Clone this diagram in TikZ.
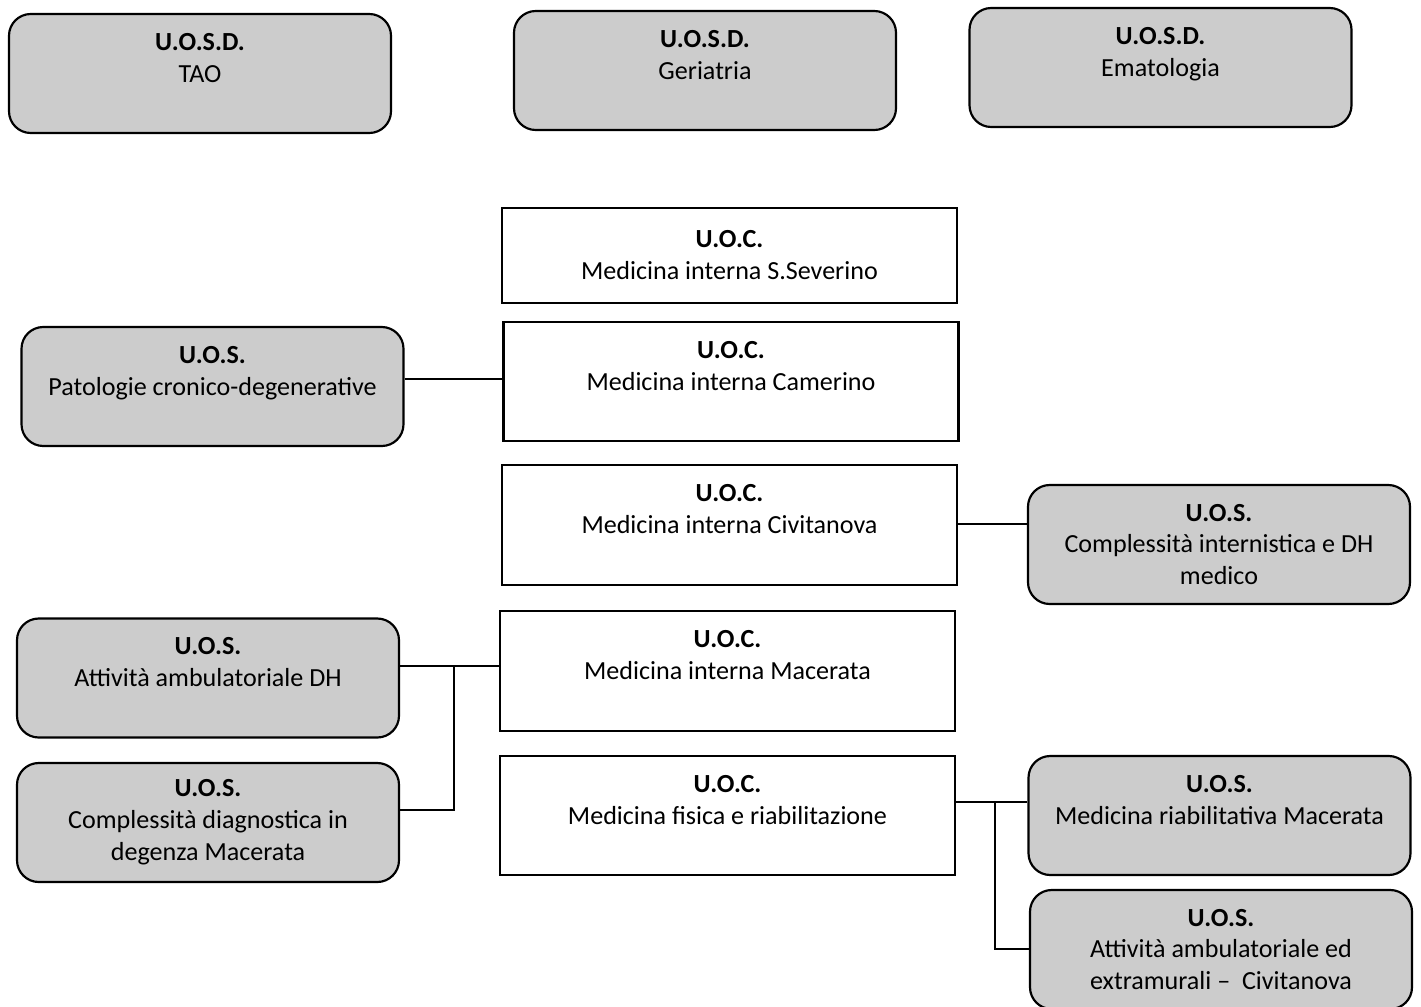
\documentclass[tikz,border=0pt]{standalone}
\usepackage{fontspec}
\setmainfont{Carlito}
\usepackage{tikz}

\newcommand{\px}{0.46pt}
\newcommand{\gap}{\\\mbox{}}

\begin{document}
\begin{tikzpicture}[x=0.46pt,y=-0.46pt,
        unit/.style={draw=black,line width=1pt,align=center,
          font=\fontsize{12}{14.7}\selectfont,inner sep=0pt},
        uoc/.style={unit,fill=white,minimum width=455*\px},
        uos/.style={unit,fill=black!20,rounded corners=10pt,minimum width=382*\px,minimum height=119*\px},
        link/.style={line width=1pt}]
        % Frame of the page
        \useasboundingbox (0,0) rectangle (1421,1006);

        % U.O.S.D. on top
        \node[uos] (tao) at (200,73.5) {\textbf{U.O.S.D.}\\TAO\gap};
        \node[uos] (ger) at (705,70.5) {\textbf{U.O.S.D.}\\Geriatria\gap};
        \node[uos] (ema) at (1160.5,67.5) {\textbf{U.O.S.D.}\\Ematologia\gap};

        % U.O.C. column
        \node[uoc,minimum height=95*\px] (sev) at (729.5,255.5) {\textbf{U.O.C.}\\Medicina interna S.Severino};
        \node[uoc,minimum height=119*\px] (cam) at (731,381.5) {\textbf{U.O.C.}\\Medicina interna Camerino\gap};
        \node[uoc,minimum height=120*\px] (civ) at (729.5,525) {\textbf{U.O.C.}\\Medicina interna Civitanova\gap};
        \node[uoc,minimum height=120*\px] (mac) at (727.5,671) {\textbf{U.O.C.}\\Medicina interna Macerata\gap};
        \node[uoc,minimum height=119*\px] (fis) at (727.5,815.5) {\textbf{U.O.C.}\\Medicina fisica e riabilitazione\gap};

        % U.O.S. on both sides
        \node[uos] (pat) at (212.5,386.5) {\textbf{U.O.S.}\\Patologie cronico-degenerative\gap};
        \node[uos] (cint) at (1219,544.5) {\textbf{U.O.S.}\\Complessità internistica e DH\\medico};
        \node[uos] (dh) at (208,678) {\textbf{U.O.S.}\\Attività ambulatoriale DH\gap};
        \node[uos] (cdia) at (208,822.5) {\textbf{U.O.S.}\\Complessità diagnostica in\\degenza Macerata};
        \node[uos] (riab) at (1219.5,815.5) {\textbf{U.O.S.}\\Medicina riabilitativa Macerata\gap};
        \node[uos] (ambx) at (1221,949.5) {\textbf{U.O.S.}\\Attività ambulatoriale ed\\extramurali -- \ Civitanova};

        % Junctions
        \coordinate (jp) at (455,379);
        \coordinate (jc) at (990,524);
        \coordinate (jm) at (454,666);
        \coordinate (jd) at (454,810);
        \coordinate (jf) at (995,802);
        \coordinate (ja) at (995,949);

        % Connectors
        \draw[link] (pat.east |- jp) -- (cam.west |- jp);
        \draw[link] (civ.east |- jc) -- (cint.west |- jc);
        \draw[link] (dh.east |- jm) -- (mac.west |- jm);
        \draw[link] (jm) -- (jd) -- (cdia.east |- jd);
        \draw[link] (fis.east |- jf) -- (riab.west |- jf);
        \draw[link] (jf) -- (ja) -- (ambx.west |- ja);
    \end{tikzpicture}
\end{document}
